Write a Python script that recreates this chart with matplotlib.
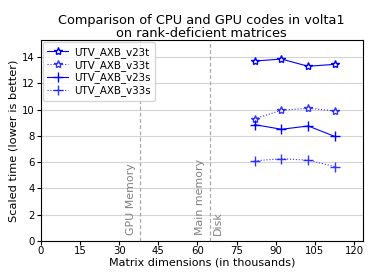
import matplotlib
matplotlib.use('Agg')
import matplotlib.pyplot as plt

# Data (matrix dimensions in thousands)
sizes = [81.92, 92.16, 102.4, 112.64]
v23t = [13.7, 13.85, 13.3, 13.45]
v33t = [9.3, 9.95, 10.1, 9.9]
v23s = [8.85, 8.5, 8.75, 7.95]
v33s = [6.1, 6.25, 6.15, 5.65]
gpu_mem = 38.0
main_mem = 64.7

fig, ax = plt.subplots(figsize=(3.74, 2.8), dpi=100)

ax.plot(sizes, v23t, color='blue', linestyle='-', linewidth=0.8, marker='*',
        markersize=6, markerfacecolor='white', markeredgecolor='blue', label='UTV_AXB_v23t')
ax.plot(sizes, v33t, color='blue', linestyle=':', linewidth=0.8, alpha=0.8, marker='*',
        markersize=6, markerfacecolor='white', markeredgecolor='blue', label='UTV_AXB_v33t')
ax.plot(sizes, v23s, color='blue', linestyle='-', linewidth=0.8, marker='+',
        markersize=6.5, label='UTV_AXB_v23s')
ax.plot(sizes, v33s, color='blue', linestyle=':', linewidth=0.8, alpha=0.8, marker='+',
        markersize=6.5, label='UTV_AXB_v33s')

ax.axvline(gpu_mem, color='darkgray', linestyle='--', linewidth=0.9, dashes=(3, 2))
ax.axvline(main_mem, color='darkgray', linestyle='--', linewidth=0.9, dashes=(3, 2))
ax.text(gpu_mem - 1.7, 0.45, 'GPU Memory', rotation=90, color='gray',
        ha='right', va='bottom', fontsize=7.9)
ax.text(main_mem - 1.8, 0.45, 'Main memory', rotation=90, color='gray',
        ha='right', va='bottom', fontsize=7.9)
ax.text(main_mem + 1.3, 0.45, 'Disk', rotation=90, color='gray',
        ha='left', va='bottom', fontsize=7.9)

ax.set_xlim(0, 123.3)
ax.set_ylim(0, 15.3)
ax.set_xticks(range(0, 121, 15))
ax.set_yticks(range(0, 15, 2))
ax.tick_params(labelsize=7.3, length=2.6, pad=1.5)
ax.grid(axis='y', color='lightgray', linewidth=0.8)
ax.set_axisbelow(True)

ax.set_xlabel('Matrix dimensions (in thousands)', fontsize=8, labelpad=0.5)
ax.set_ylabel('Scaled time (lower is better)', fontsize=8.2)
ax.yaxis.set_label_coords(-0.07, 0.5)
ax.set_title('Comparison of CPU and GPU codes in volta1\non rank-deficient matrices',
             fontsize=9.3, linespacing=0.95, pad=2.2)
ax.legend(loc='upper left', fontsize=7.35, handlelength=2.0, handletextpad=0.6,
          borderpad=0.45, labelspacing=0.2, borderaxespad=0.2)

plt.subplots_adjust(left=0.109, right=0.97, top=0.857, bottom=0.14)
plt.savefig('out.png', dpi=100)
